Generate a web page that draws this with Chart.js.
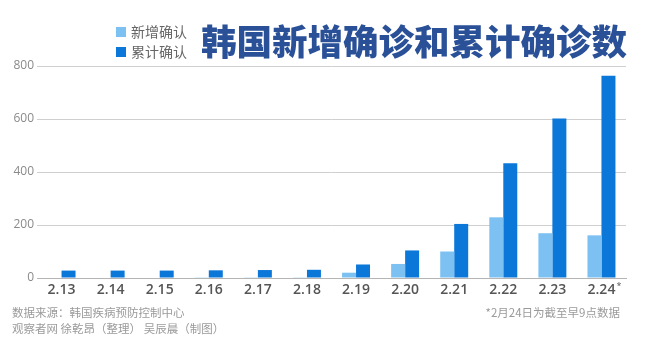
<!DOCTYPE html>
<html>
<head>
<meta charset="utf-8">
<script src="https://cdn.jsdelivr.net/npm/chart.js@4.4.1/dist/chart.umd.min.js"></script>
<style>
  html, body { margin: 0; padding: 0; background: #fff; }
  #wrap { position: relative; width: 650px; height: 350px; }
</style>
</head>
<body>
<div id="wrap"><canvas id="koreaChart" width="650" height="350"></canvas></div>
<script>
const CJK = '"Noto Sans CJK SC", "Noto Sans", sans-serif';

const dates = ['2.13', '2.14', '2.15', '2.16', '2.17', '2.18', '2.19', '2.20', '2.21', '2.22', '2.23', '2.24'];
const newCases = [0, 0, 0, 1, 1, 1, 20, 53, 100, 229, 169, 161];
const totalCases = [28, 28, 28, 29, 30, 31, 51, 104, 204, 433, 602, 763];
const yTicks = [0, 200, 400, 600, 800];

const seriesNames = ['新增确认', '累计确认'];
const seriesColors = ['#7dc1f3', '#0b77d8'];

const titleText = '韩国新增确诊和累计确诊数';
const sourceText = '数据来源：韩国疾病预防控制中心';
const creditText = '观察者网 徐乾昂（整理） 吴辰晨（制图）';
const noteText = '*2月24日为截至早9点数据';

// header, legend, footer and the asterisk on the last date
const decorations = {
  id: 'decorations',
  afterDraw(chart) {
    const ctx = chart.ctx;
    ctx.save();

    ctx.textBaseline = 'middle';
    ctx.textAlign = 'left';
    seriesNames.forEach((name, i) => {
      const y = 32 + i * 20;
      ctx.fillStyle = seriesColors[i];
      ctx.fillRect(116, y - 5, 10, 10);
      ctx.fillStyle = '#666';
      ctx.font = '14px ' + CJK;
      ctx.fillText(name, 131, y);
    });

    ctx.fillStyle = '#2a5198';
    ctx.font = '900 35.5px ' + CJK;
    ctx.fillText(titleText, 201, 42);

    ctx.font = '11.5px ' + CJK;
    ctx.fillStyle = '#9a9a9a';
    ctx.fillText(sourceText, 12, 313);
    ctx.fillText(creditText, 12, 329);
    ctx.textAlign = 'right';
    ctx.fillText(noteText, 620, 313);

    const x = chart.scales.x;
    const last = dates.length - 1;
    ctx.font = '600 14px "Open Sans", sans-serif';
    const w = ctx.measureText(dates[last]).width;
    ctx.textAlign = 'left';
    ctx.fillStyle = '#555';
    ctx.font = '9px "Open Sans", sans-serif';
    ctx.fillText('*', x.getPixelForValue(last) + w / 2 + 1, 286);

    ctx.restore();
  }
};

new Chart(document.getElementById('koreaChart'), {
  type: 'bar',
  data: {
    labels: dates,
    datasets: [
      {
        label: seriesNames[0],
        data: newCases,
        backgroundColor: seriesColors[0],
        barPercentage: 1,
        categoryPercentage: 0.57
      },
      {
        label: seriesNames[1],
        data: totalCases,
        backgroundColor: seriesColors[1],
        barPercentage: 1,
        categoryPercentage: 0.57
      }
    ]
  },
  options: {
    responsive: false,
    animation: false,
    devicePixelRatio: 1,
    layout: { padding: { top: 66, right: 24, left: 0, bottom: 0 } },
    plugins: {
      legend: { display: false },
      tooltip: { enabled: false }
    },
    scales: {
      x: {
        grid: { display: false, drawTicks: false },
        border: { color: '#b5b5b5', width: 1 },
        ticks: {
          color: '#555',
          font: { family: '"Open Sans", sans-serif', size: 14, weight: '600' },
          padding: 4,
          maxRotation: 0,
          autoSkip: false
        },
        afterFit(scale) { scale.height = 72; }
      },
      y: {
        min: 0,
        max: 800,
        afterBuildTicks(scale) { scale.ticks = yTicks.map(v => ({ value: v })); },
        grid: { color: '#cfcfcf', drawTicks: false },
        border: { display: false },
        ticks: {
          color: '#8a8a8a',
          font: { family: '"Open Sans", sans-serif', size: 12 },
          padding: 3
        },
        afterFit(scale) { scale.width = 37; }
      }
    }
  },
  plugins: [decorations]
});
</script>
</body>
</html>
